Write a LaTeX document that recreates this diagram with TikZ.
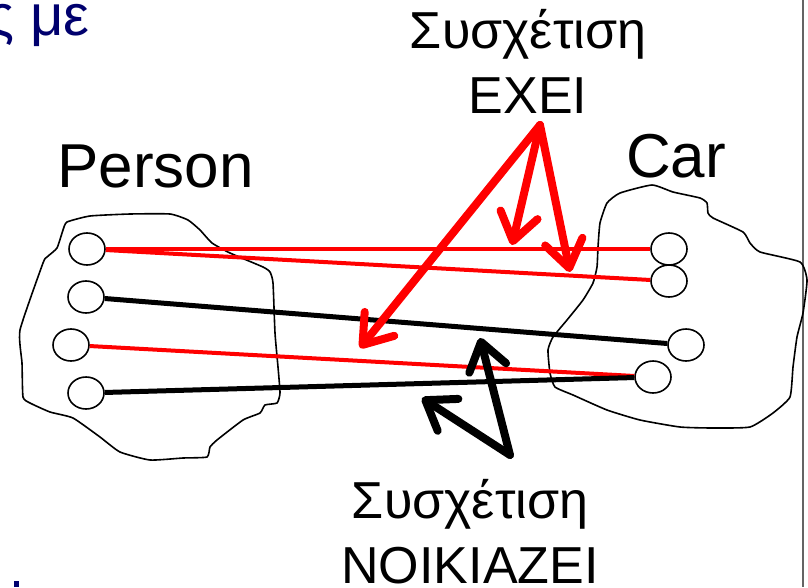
\documentclass[tikz,border=0pt]{standalone}
\usepackage{fontspec}
\setmainfont{Liberation Sans}
\usetikzlibrary{arrows.meta, shapes.geometric}
\definecolor{slidenavy}{RGB}{0,0,110}
\definecolor{framegray}{RGB}{100,100,100}

\tikzset{
    entity/.style={ellipse, draw, line width=1.6pt, minimum width=36pt, minimum height=32pt, inner sep=0pt},
    entityset/.style={line width=1.6pt},
    haslink/.style={red, line width=4pt},
    rentlink/.style={black, line width=5pt},
    pointer/.style={line width=8pt, line cap=round, -{Straight Barb[length=27pt, width=38pt, round]}},
    setlabel/.style={font=\fontsize{62}{70}\selectfont, inner sep=0pt},
    rellabel/.style={font=\fontsize{52}{65}\selectfont, align=center, inner sep=0pt}
}

\begin{document}
\begin{tikzpicture}[x=1pt, y=-1pt]
    \useasboundingbox (0,0) rectangle (808,587);
    % what is left of the slide
    \node[anchor=base east, inner sep=0pt, text=slidenavy, font=\fontsize{58}{60}\selectfont] (title) at (90,35) {ς με};
    \fill[slidenavy] (14,581) rectangle (19,587);
    \draw[framegray, line width=2pt] (803,0) -- (803,587);

    % entity sets
    \draw[entityset] plot[smooth cycle, tension=0.3] coordinates {
        (63,230) (67,222) (90,216) (130,214) (170,214) (188,220) (200,230) (212,243)
        (230,253) (263,267) (270,272) (273,283) (275,333) (278,367) (280,393) (277,403)
        (265,405) (260,413) (243,420) (217,440) (210,447) (207,457) (183,458) (150,460)
        (120,452) (100,437) (73,418) (50,412) (30,403) (23,397) (22,363) (20,330)
        (43,263) (47,257) (57,248)};
    \draw[entityset] plot[smooth cycle, tension=0.3] coordinates {
        (652,185) (673,192) (700,198) (707,203) (708,213) (713,218) (743,232) (750,243)
        (760,252) (800,262) (807,280) (803,313) (797,337) (793,367) (790,397) (773,413)
        (750,427) (713,428) (680,427) (640,420) (607,410) (573,395) (555,387) (550,373)
        (548,350) (553,337) (567,320) (583,300) (593,283) (597,267) (598,247) (600,223)
        (607,203) (620,193)};
    \node[setlabel, anchor=base west] (person) at (57,187) {Person};
    \node[setlabel, anchor=base west] (car) at (626,177) {Car};

    % entities
    \node[entity] (p1) at (87,249) {};
    \node[entity] (p2) at (86,297) {};
    \node[entity] (p3) at (71,345) {};
    \node[entity] (p4) at (86,393) {};
    \node[entity] (c1) at (669,249) {};
    \node[entity] (c2) at (669,281) {};
    \node[entity] (c3) at (686,345) {};
    \node[entity] (c4) at (653,377) {};

    % relationship instances
    \draw[haslink] (p1) -- (c1);
    \draw[haslink] (p1) -- (c2);
    \draw[rentlink] (p2) -- (c3);
    \draw[haslink] (p3) -- (c4);
    \draw[rentlink] (p4) -- (c4);

    % relationship labels (base = last line)
    \node[rellabel, anchor=base] (has) at (528,113) {Συσχέτιση\\ΕΧΕΙ};
    \node[rellabel, anchor=base] (rents) at (470,583) {Συσχέτιση\\ΝΟΙΚΙΑΖΕΙ};

    \coordinate (hasapex) at (540,125);
    \coordinate (hastip1) at (512,245);
    \coordinate (hastip2) at (570,272);
    \coordinate (hastip3) at (360,348);
    \coordinate (rentapex) at (510,455);
    \coordinate (renttip1) at (480,338);
    \coordinate (renttip2) at (422,398);

    \foreach \t in {1,2,3}
        \draw[pointer, red] (hasapex) -- (hastip\t);
    \foreach \t in {1,2}
        \draw[pointer, black] (rentapex) -- (renttip\t);
\end{tikzpicture}
\end{document}
